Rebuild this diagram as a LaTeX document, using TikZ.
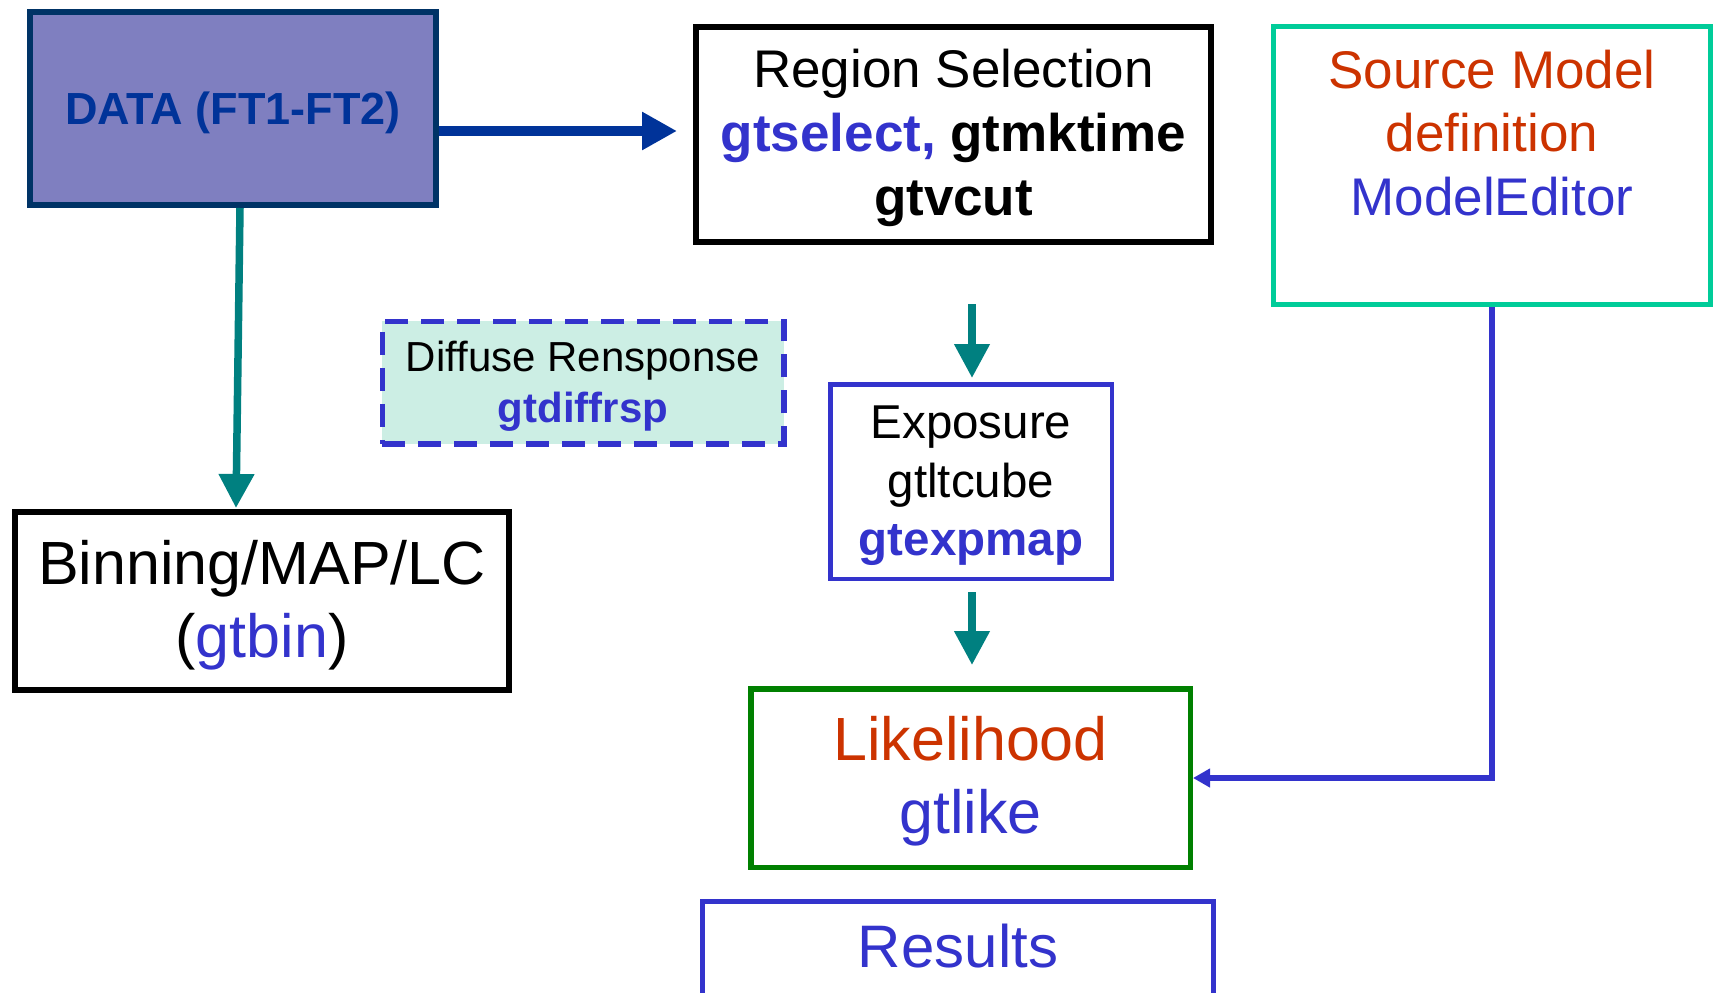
\documentclass[tikz,border=0pt]{standalone}
\usepackage{fontspec}
\setmainfont{Liberation Sans}
\usetikzlibrary{arrows.meta}
\definecolor{navy}{HTML}{003366}
\definecolor{dblue}{HTML}{003399}
\definecolor{pblue}{HTML}{3333CC}
\definecolor{rorange}{HTML}{CC3300}
\definecolor{tealc}{HTML}{008080}
\definecolor{grn}{HTML}{008000}
\definecolor{mint}{HTML}{00CC99}
\definecolor{datafill}{HTML}{7F7FC0}
\definecolor{diffill}{HTML}{CCEEE4}
\tikzset{
  box/.style={draw, rectangle, inner sep=0pt},
  txt/.style={align=center, inner sep=0pt},
  tealarrow/.style={draw=tealc, line width=7.5pt, -{Triangle[length=34pt,width=34pt]}},
  fs/.style 2 args={font=\fontsize{#1}{#2}\selectfont}
}
\begin{document}
\begin{tikzpicture}[x=1pt,y=-1pt]
\useasboundingbox (0,0) rectangle (1713,993);
% DATA
\node[box, draw=navy, fill=datafill, line width=6pt, minimum width=406pt, minimum height=193pt] (data) at (233,108.5) {};
\node[txt, text=dblue, fs={45}{54}] (datatext) at (233,113) {\bfseries DATA (FT1-FT2)};
% Region Selection
\node[box, draw=black, line width=6pt, minimum width=515pt, minimum height=215pt] (reg) at (953.5,134.5) {};
\node[txt, fs={53}{64}] (regtext) at (953.5,138) {Region Selection\\ \textbf{\textcolor{pblue}{gtselect,} gtmktime}\\ \textbf{gtvcut}};
% Source Model
\node[box, draw=mint, line width=5pt, minimum width=437pt, minimum height=278pt] (src) at (1492,165.5) {};
\node[txt, fs={53}{63.5}, text=rorange] (srctext) at (1492,133) {Source Model\\ definition\\ \textcolor{pblue}{ModelEditor}};
% Diffuse response
\node[box, draw=pblue, fill=diffill, line width=5.5pt, dash pattern=on 23pt off 13pt, minimum width=401.5pt, minimum height=122.5pt] (dif) at (583,382.5) {};
\node[txt, fs={42}{51}] (diftext) at (583,386) {Diffuse Rensponse\\ \textbf{\textcolor{pblue}{gtdiffrsp}}};
% Exposure
\node[box, draw=pblue, line width=4.5pt, minimum width=281.5pt, minimum height=194.5pt] (exp) at (971,481.5) {};
\node[txt, fs={47.5}{58.5}] (exptext) at (971,486) {Exposure\\ gtltcube\\ \textbf{\textcolor{pblue}{gtexpmap}}};
% Likelihood
\node[box, draw=grn, line width=5.5pt, minimum width=439.5pt, minimum height=178.5pt] (lik) at (970.5,778) {};
\node[txt, fs={61}{73}, text=rorange] (liktext) at (970.5,781.5) {Likelihood\\ \textcolor{pblue}{gtlike}};
% Binning
\node[box, draw=black, line width=6pt, minimum width=494pt, minimum height=178pt] (bin) at (262,601) {};
\node[txt, fs={61}{73}] (bintext) at (262,605.5) {Binning/MAP/LC\\ (\textcolor{pblue}{gtbin})};
% Results
\node[box, draw=pblue, line width=5pt, minimum width=511pt, minimum height=240pt, anchor=north] (resbox) at (958,898.5) {};
\node[fs={60}{72}, text=pblue, inner sep=0pt] (res) at (958,946) {Results};
% connectors
\coordinate (regin) at (677,131);
\draw[draw=dblue, line width=10pt, -{Triangle[length=35pt,width=36pt]}] (data.east |- regin) -- (regin);
\coordinate (binA) at (240,208);
\coordinate (binB) at (236,508);
\draw[tealarrow] (binA) -- (binB);
\coordinate (e1a) at (972,304);
\coordinate (e1b) at (972,378);
\draw[tealarrow] (e1a) -- (e1b);
\coordinate (e2a) at (972,592);
\coordinate (e2b) at (972,665);
\draw[tealarrow] (e2a) -- (e2b);
\draw[draw=pblue, line width=5.5pt, -{Triangle[length=17pt,width=18pt]}] (src.south) |- (lik.east);
\end{tikzpicture}
\end{document}
